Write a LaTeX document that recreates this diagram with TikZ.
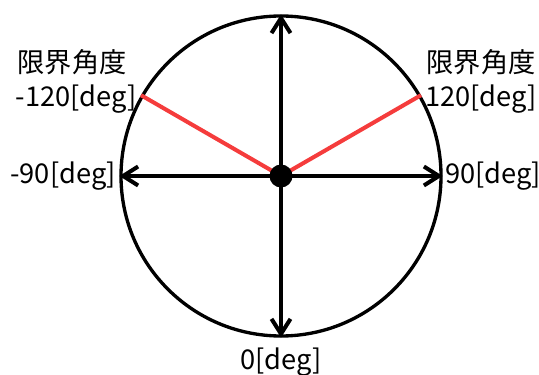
\documentclass[tikz,border=0pt]{standalone}
\usepackage{fontspec}
\setmainfont{Noto Sans CJK JP}
\usetikzlibrary{arrows.meta,positioning}
\definecolor{limred}{RGB}{245,60,60}
\tikzset{
  rimc/.style={circle, draw=black, line width=1.9pt, minimum size=64mm, inner sep=0pt},
  hubdot/.style={circle, fill=black, minimum size=4.6mm, inner sep=0pt},
  axarr/.style={{Straight Barb[length=3mm,width=3.8mm]}-{Straight Barb[length=3mm,width=3.8mm]}, line width=2.3pt},
  limline/.style={line width=2.3pt, color=limred},
  lbl/.style={font=\fontsize{15.5}{17}\selectfont, inner sep=0pt}
}
\begin{document}
\begin{tikzpicture}
\useasboundingbox (0,0) rectangle (10.78,7.48);

%% ── CIRCLE + CENTRE ────────────────────────────────────────────────
\node[rimc] (rim) at (5.62,3.96) {};
\coordinate (hub) at (rim.center);

%% ── LIMIT LINES ────────────────────────────────────────────────────
\draw[limline] (hub) -- (rim.30);
\draw[limline] (hub) -- (rim.150);

%% ── AXES ───────────────────────────────────────────────────────────
\draw[axarr] (rim.north) -- (rim.south);
\draw[axarr] (rim.west) -- (rim.east);
\node[hubdot] (dot) at (hub) {};

%% ── LABELS ─────────────────────────────────────────────────────────
\node[lbl, anchor=east] (lm120) at (2.74,5.50) {-120[deg]};
\node[lbl, anchor=south] (llimL) at (1.44,5.98) {限界角度};
\node[lbl, anchor=west] (lp120) at (8.50,5.50) {120[deg]};
\node[lbl, anchor=south] (llimR) at (9.62,5.98) {限界角度};
\node[lbl, left=0.6mm of rim.west] (lm90) {-90[deg]};
\node[lbl, right=0.4mm of rim.east] (lp90) {90[deg]};
\node[lbl, below=2.0mm of rim.south] (l0) {0[deg]};

\end{tikzpicture}
\end{document}
